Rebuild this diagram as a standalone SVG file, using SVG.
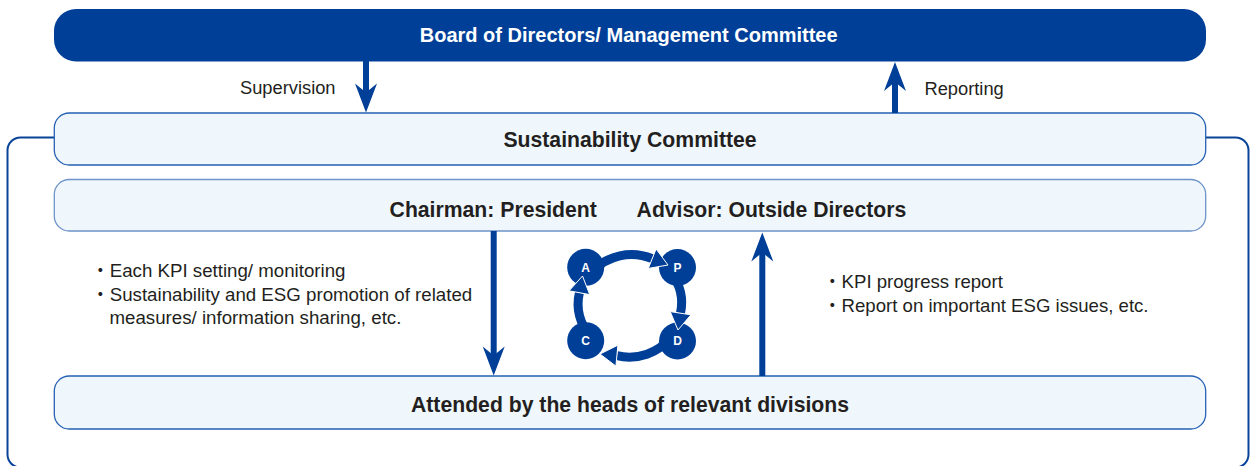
<svg xmlns="http://www.w3.org/2000/svg" width="1250" height="466" viewBox="0 0 1250 466">
  <defs>
    <style>
      .bracket { fill: none; stroke: #0a4499; stroke-width: 2; }
      .box { fill: #eff7fc; stroke: #2661b3; stroke-width: 1.3; }
      .box-soft { fill: #eff7fc; stroke: #6e93c8; stroke-width: 1.3; }
      .top { fill: #003f98; }
      .shaft { stroke: #003f98; stroke-width: 6; fill: none; }
      .head { fill: #003f98; }
      .ring { fill: none; stroke: #003f98; stroke-width: 9; }
      .dot { fill: #003f98; }
      .ring-head { fill: #003f98; stroke: #ffffff; stroke-width: 1; stroke-linejoin: round; }
      .t { font-family: "Liberation Sans", Arial, Helvetica, "Noto Sans CJK JP", sans-serif; fill: #231f20; }
      .bold { font-weight: bold; }
      .white { fill: #ffffff; }
      .mid { text-anchor: middle; }
    </style>
    <!-- notched arrowhead pointing down, tip at origin -->
    <path id="arrowhead" d="M0,0 L-11,-29 L0,-20 L11,-29 Z"/>
  </defs>

  <!-- outer bracket around the committee -->
  <rect class="bracket" x="7.5" y="137.5" width="1241" height="330" rx="13"/>

  <g id="board">
    <rect class="top" x="54" y="9" width="1152" height="52.5" rx="22"/>
    <text class="t bold white mid" x="628.7" y="42.3" font-size="20">Board of Directors/ Management Committee</text>
  </g>

  <g id="sustainability-committee">
    <rect class="box" x="54.3" y="113" width="1151.4" height="52" rx="15"/>
    <text class="t bold mid" x="630" y="146.5" font-size="21.2">Sustainability Committee</text>
  </g>

  <g id="chair-advisor">
    <rect class="box-soft" x="54.3" y="179.5" width="1151.4" height="51.5" rx="15"/>
    <text class="t bold" x="389.6" y="216.7" font-size="21.2">Chairman: President</text>
    <text class="t bold" x="636.6" y="216.7" font-size="21.2">Advisor: Outside Directors</text>
  </g>

  <g id="divisions">
    <rect class="box" x="54.3" y="376" width="1151.4" height="53" rx="15"/>
    <text class="t bold mid" x="630" y="412" font-size="21.2">Attended by the heads of relevant divisions</text>
  </g>

  <g id="connectors">
    <!-- Supervision: board down to committee -->
    <line class="shaft" x1="366" y1="61" x2="366" y2="95"/>
    <use href="#arrowhead" class="head" transform="translate(366,112.5)"/>
    <!-- Reporting: committee up to board -->
    <line class="shaft" x1="895" y1="113" x2="895" y2="79"/>
    <use href="#arrowhead" class="head" transform="translate(895,62) rotate(180)"/>
    <!-- instructions down to divisions -->
    <line class="shaft" x1="493.7" y1="231" x2="493.7" y2="358"/>
    <use href="#arrowhead" class="head" transform="translate(493.7,375.5)"/>
    <!-- reports up from divisions -->
    <line class="shaft" x1="762.3" y1="376" x2="762.3" y2="250"/>
    <use href="#arrowhead" class="head" transform="translate(762.3,232.5) rotate(180)"/>
  </g>

  <g id="connector-labels">
    <text class="t" x="240" y="94" font-size="18.3">Supervision</text>
    <text class="t" x="924.5" y="95" font-size="18.3">Reporting</text>
  </g>

  <g id="left-notes">
    <text class="t" x="91" y="277" font-size="18.7">・Each KPI setting/ monitoring</text>
    <text class="t" x="91" y="300.8" font-size="18.7">・Sustainability and ESG promotion of related</text>
    <text class="t" x="109.5" y="323.5" font-size="18.7">measures/ information sharing, etc.</text>
  </g>

  <g id="right-notes">
    <text class="t" x="823" y="287.5" font-size="18.6">・KPI progress report</text>
    <text class="t" x="823" y="311.5" font-size="18.6">・Report on important ESG issues, etc.</text>
  </g>

  <g id="pdca-cycle">
    <path class="ring" d="M592,272 A52 50 0 0 1 652.2,258.7"/>
    <path class="ring" d="M671,273 A52 50 0 0 1 680.5,313.2"/>
    <path class="ring" d="M671,337 A52 50 0 0 1 616.9,355.7"/>
    <path class="ring" d="M591,337 A52 50 0 0 1 579.4,292.7"/>

    <g id="pdca-a">
      <circle class="dot" cx="585.7" cy="267.3" r="18.5"/>
      <text class="t bold white mid" x="585.7" y="271.6" font-size="12">A</text>
    </g>
    <g id="pdca-p">
      <circle class="dot" cx="677.5" cy="267.5" r="18.5"/>
      <text class="t bold white mid" x="677.5" y="271.8" font-size="12">P</text>
    </g>
    <g id="pdca-d">
      <circle class="dot" cx="677.5" cy="341" r="18.5"/>
      <text class="t bold white mid" x="677.5" y="345.3" font-size="12">D</text>
    </g>
    <g id="pdca-c">
      <circle class="dot" cx="585.7" cy="340.7" r="18.5"/>
      <text class="t bold white mid" x="585.7" y="345" font-size="12">C</text>
    </g>

    <polygon class="ring-head" points="668,265 656.1,249 648.3,268.4"/>
    <polygon class="ring-head" points="678,330 690.9,314.8 670.2,311.6"/>
    <polygon class="ring-head" points="600,354 617.9,345.2 615.9,366.1"/>
    <polygon class="ring-head" points="582.5,276 569.1,290.8 589.7,294.6"/>
  </g>
</svg>
